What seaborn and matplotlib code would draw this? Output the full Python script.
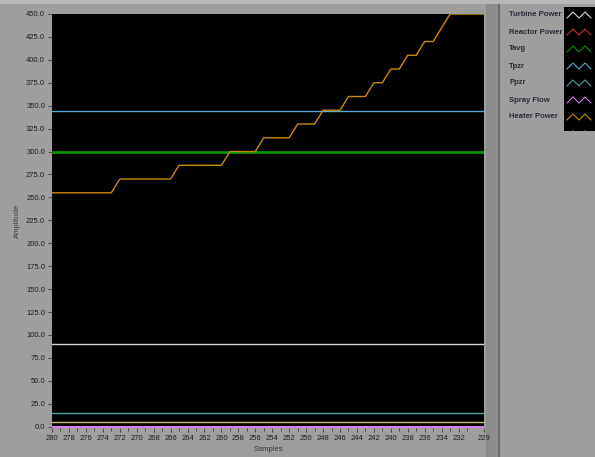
import numpy as np
import pandas as pd
import matplotlib
matplotlib.use("Agg")
import matplotlib.pyplot as plt
import seaborn as sns
from matplotlib.patches import Rectangle
from matplotlib.lines import Line2D

# data
samples = list(range(280, 228, -1))   # 280 .. 229
heater_power = ([255]*8 + [270]*7 + [285]*6 + [300]*4 + [315]*4 + [330]*3 + [345]*3
                + [360]*3 + [375]*2 + [390]*2 + [405]*2 + [420]*2 + [435] + [450]*5)
turbine_power = [90.3]*len(samples)
reactor_power = [0.0]*len(samples)
tavg = [300.0]*len(samples)
tpzr = [344.0]*len(samples)
ppzr = [15.3]*len(samples)
spray_flow = [0.0]*len(samples)
series8 = [4.7]*len(samples)

legend_names = ["Turbine Power", "Reactor Power", "Tavg", "Tpzr", "Ppzr", "Spray Flow", "Heater Power"]
x_ticks = list(range(280, 231, -2)) + [229]

colors = {"Turbine Power": "#d8d8d8", "Reactor Power": "#c83030", "Tavg": "#0a8f0a",
          "Tpzr": "#5aa6d6", "Ppzr": "#4fa3a0", "Spray Flow": "#d47cf0",
          "Heater Power": "#c88a10", "Series 8": "#c8c070"}
widths = {"Turbine Power": 1.0, "Reactor Power": 1.0, "Tavg": 2.0, "Tpzr": 1.0,
          "Ppzr": 1.0, "Spray Flow": 2.2, "Heater Power": 1.0, "Series 8": 1.0}

df = pd.DataFrame({"Samples": samples, "Turbine Power": turbine_power,
                   "Reactor Power": reactor_power, "Tavg": tavg, "Tpzr": tpzr,
                   "Ppzr": ppzr, "Series 8": series8, "Spray Flow": spray_flow,
                   "Heater Power": heater_power})
long = df.melt(id_vars="Samples", var_name="Series", value_name="Amplitude")

sns.set_style("dark")
plt.rcParams['font.family'] = ['Liberation Sans', 'DejaVu Sans']

fig = plt.figure(figsize=(5.95, 4.57), dpi=100)
fig.patch.set_facecolor("#9e9e9e")

# frame decorations
fig.patches.append(Rectangle((486/595, 0), 12/595, 1, transform=fig.transFigure,
                             facecolor="#8c8c8c", edgecolor="none", zorder=0))
fig.patches.append(Rectangle((498/595, 0), 2/595, 1, transform=fig.transFigure,
                             facecolor="#6a6a6a", edgecolor="none", zorder=0))
fig.patches.append(Rectangle((0, 1 - 4/457), 1, 4/457, transform=fig.transFigure,
                             facecolor="#b8b8b8", edgecolor="none", zorder=0))

ax = fig.add_axes([52/595, 1 - 428/457, 432/595, 414/457])
ax.set_zorder(3)
ax.set_facecolor("black")
for name in ["Turbine Power", "Reactor Power", "Tavg", "Tpzr", "Ppzr", "Series 8", "Spray Flow", "Heater Power"]:
    sub = long[long["Series"] == name]
    sns.lineplot(data=sub, x="Samples", y="Amplitude", color=colors[name],
                 linewidth=widths[name], ax=ax, legend=False)

ax.set_xlim(280, 229)
ax.set_ylim(-1.5, 450)
ax.set_xticks(x_ticks)
ax.set_xticklabels([str(t) for t in x_ticks])
ax.set_xticks(list(range(279, 230, -2)), minor=True)
ax.set_yticks(np.arange(0, 451, 25))
ax.set_yticklabels(["%.1f" % v for v in np.arange(0, 451, 25)])
ax.tick_params(axis="both", which="major", labelsize=5.5, colors="#3a3a3a",
               labelcolor="#1e1e1e", length=3, width=0.6, pad=2, direction="out",
               bottom=True, left=True)
ax.tick_params(axis="x", which="minor", length=2, width=0.6, colors="#3a3a3a", bottom=True)
ax.grid(False)
for s in ax.spines.values():
    s.set_visible(False)
ax.set_xlabel("Samples", fontsize=5.5, color="#3a3050", labelpad=3)
ax.set_ylabel("Amplitude", fontsize=5.5, color="#4a3058", labelpad=4)

# legend panel
lax = fig.add_axes([500/595, 1 - 131/457, 95/595, 126/457])
lax.set_facecolor("#a2a2a2")
lax.set_xlim(0, 95)
lax.set_ylim(126, 0)
lax.axis("off")
lax.add_patch(Rectangle((64, 2), 31, 124, facecolor="black", edgecolor="none"))
zig_x = np.array([0, 0.25, 0.5, 0.75, 1.0])
zig_y = np.array([3, -3, 3, -3, 3])
for i, name in enumerate(legend_names + ["Series 8"]):
    yc = 10 + 17*i
    if name != "Series 8":
        lax.text(9, yc, name, fontsize=5.5, fontweight="bold", color="#2a2a38",
                 va="center", ha="left")
    lax.add_line(Line2D(67 + 24*zig_x, yc + zig_y, color=colors[name], lw=0.8))

plt.savefig("out.png", dpi=100, facecolor=fig.get_facecolor())
